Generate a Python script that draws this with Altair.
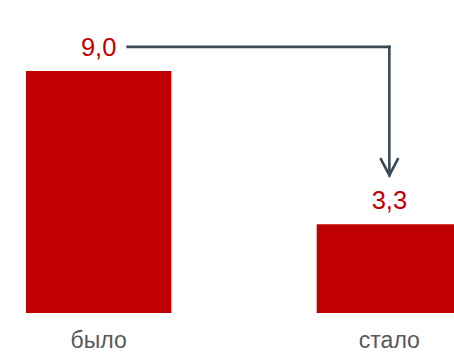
import altair as alt
import pandas as pd

categories = ["было", "стало"]
values = [9.0, 3.3]

df = pd.DataFrame({"cat": categories, "value": values})

RED = "#C00000"
ARROW = "#3A4A55"
FONT = "Liberation Sans"

x_scale = alt.Scale(domain=categories, range=[0, 488], paddingInner=0.5, paddingOuter=0.0893)
y_scale = alt.Scale(domain=[0, 10])

base = alt.Chart(df)

bars = base.mark_bar(color=RED).encode(
    x=alt.X("cat:N", scale=x_scale, sort=categories,
            axis=alt.Axis(title=None, domain=False, ticks=False, labelAngle=0,
                          labelFontSize=23, labelColor="#595959", labelFont=FONT,
                          labelBaseline="alphabetic", labelPadding=34)),
    y=alt.Y("value:Q", scale=y_scale, axis=None),
)

labels = base.mark_text(color=RED, fontSize=25.5, font=FONT, baseline="alphabetic", dy=-15).transform_calculate(
    lbl="replace(format(datum.value, '.1f'), '.', ',')"
).encode(
    x=alt.X("cat:N", scale=x_scale, sort=categories),
    y=alt.Y("value:Q", scale=y_scale),
    text="lbl:N",
)

arrow_df = pd.DataFrame({"from": ["было"], "to": ["стало"], "top": [values[0]], "bottom": [values[1]]})

h_line = alt.Chart(arrow_df).mark_rule(color=ARROW, strokeWidth=2.6, strokeCap="square",
                                       xOffset=29, yOffset=-24).encode(
    x=alt.X("from:N", scale=x_scale, sort=categories),
    x2="to:N",
    y=alt.Y("top:Q", scale=y_scale),
)

v_line = alt.Chart(arrow_df).mark_rule(color=ARROW, strokeWidth=2.6, strokeCap="square",
                                       yOffset=-24, y2Offset=-49).encode(
    x=alt.X("to:N", scale=x_scale, sort=categories),
    y=alt.Y("top:Q", scale=y_scale),
    y2="bottom:Q",
)

head = alt.Chart(arrow_df).mark_point(shape="M-1,-1.9L0,0L1,-1.9", size=324, filled=False,
                                      stroke=ARROW, strokeWidth=2.6, opacity=1,
                                      strokeJoin="miter", yOffset=-49).encode(
    x=alt.X("to:N", scale=x_scale, sort=categories),
    y=alt.Y("bottom:Q", scale=y_scale),
)

chart = alt.layer(bars, labels, h_line, v_line, head).properties(
    width=454, height=269,
    autosize=alt.AutoSizeParams(type="none"),
    padding={"left": 0, "top": 44, "right": 0, "bottom": 43},
).configure_view(stroke=None)

chart.save("out.html", embed_options={"renderer": "svg", "actions": False})
